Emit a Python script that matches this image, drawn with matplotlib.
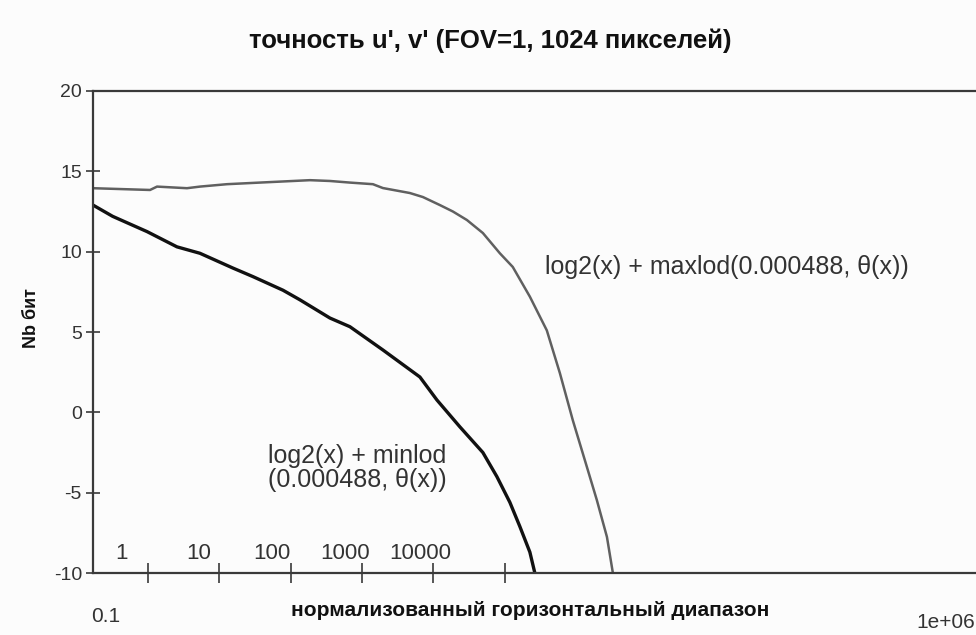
import matplotlib.pyplot as plt

plt.rcParams['font.family'] = ['Liberation Sans', 'DejaVu Sans']
plt.rcParams['axes.unicode_minus'] = False

# curve values
x_max = [0.17, 1.07, 1.34, 3.52, 5.35, 12.8, 37, 186, 354, 675, 1417, 1955,
         4670, 7110, 12300, 18700, 29400, 49200, 85100, 129000, 224000,
         387000, 589000, 896000, 1.41e6, 1.94e6, 2.69e6, 3.26e6]
y_max = [13.95, 13.84, 14.05, 13.95, 14.05, 14.2, 14.3, 14.45, 14.4, 14.3,
         14.2, 13.96, 13.65, 13.4, 12.9, 12.5, 11.97, 11.16, 9.9, 9.05, 7.2,
         5.1, 2.45, -0.5, -3.4, -5.45, -7.75, -10.0]

x_min = [0.17, 0.32, 0.51, 0.97, 2.55, 5.35, 15.5, 29.5, 78, 135, 354, 675,
         1960, 6450, 11170, 23400, 49200, 77300, 117500, 162000, 224000,
         263000]
y_min = [12.9, 12.2, 11.8, 11.25, 10.3, 9.9, 8.98, 8.45, 7.6, 7.0, 5.87,
         5.33, 3.88, 2.2, 0.77, -0.9, -2.5, -4.0, -5.6, -7.1, -8.7, -10.0]

x_ticks = [1, 10, 100, 1000, 10000, 100000]
x_tick_labels = ['1', '10', '100', '1000', '10000']
y_ticks = [-10, -5, 0, 5, 10, 15, 20]

fig = plt.figure(figsize=(9.76, 6.35), dpi=100, facecolor='#fcfcfc')
ax = fig.add_axes([0.0953, 0.0976, 0.9047, 0.7591])
ax.set_facecolor('#fcfcfc')

ax.plot(x_max, y_max, color='#606060', lw=1.8)
ax.plot(x_min, y_min, color='#111111', lw=2.4)

ax.set_xscale('log')
ax.set_xlim(0.17, 10 ** 11.6)
ax.set_ylim(-10, 20)

for s in ['left', 'top', 'bottom']:
    ax.spines[s].set_color('#3a3a3a')
    ax.spines[s].set_linewidth(1.6)
ax.spines['right'].set_visible(False)

ax.set_yticks(y_ticks)
ax.tick_params(axis='y', direction='inout', length=10, width=1.2,
               labelsize=14, colors='#3a3a3a', labelcolor='#333333', pad=3)
ax.set_xticks(x_ticks)
ax.set_xticklabels([])
ax.minorticks_off()
ax.tick_params(axis='x', which='both', direction='inout', length=14, width=1.2,
               colors='#3a3a3a')

# numbers sit above the axis, a little left of each tick (shift in px)
label_shift = [-26, -21, -19, -17, -13]
for t, lab, dx in zip(x_ticks, x_tick_labels, label_shift):
    ax.annotate(lab, xy=(t, -10), xytext=(dx * 0.72, 14), textcoords='offset points',
                ha='center', va='center', fontsize=16, color='#333333')

fig.text(106 / 976, 1 - 617 / 635, '0.1', ha='center', va='center',
         fontsize=15, color='#333333')
fig.text(975 / 976, 1 - 622 / 635, '1e+06', ha='right', va='center',
         fontsize=15, color='#333333')

fig.text(490 / 976, 1 - 41 / 635, "точность u', v' (FOV=1, 1024 пикселей)",
         ha='center', va='center', fontsize=18.5, fontweight='bold', color='#111111')
fig.text(530 / 976, 1 - 610 / 635, 'нормализованный горизонтальный диапазон',
         ha='center', va='center', fontsize=15, fontweight='bold', color='#111111')
fig.text(32 / 976, 1 - 318 / 635, 'Nb бит', ha='center', va='center',
         rotation=90, fontsize=13, fontweight='bold', color='#111111')

fig.text(545 / 976, 1 - 267 / 635, 'log2(x) + maxlod(0.000488, θ(x))',
         ha='left', va='center', fontsize=18, color='#333333')
fig.text(357 / 976, 1 - 468 / 635, 'log2(x) + minlod\n(0.000488, θ(x))',
         ha='center', va='center', fontsize=18, color='#333333',
         multialignment='center', linespacing=1.05)

plt.savefig('out.png', dpi=100, facecolor=fig.get_facecolor())
